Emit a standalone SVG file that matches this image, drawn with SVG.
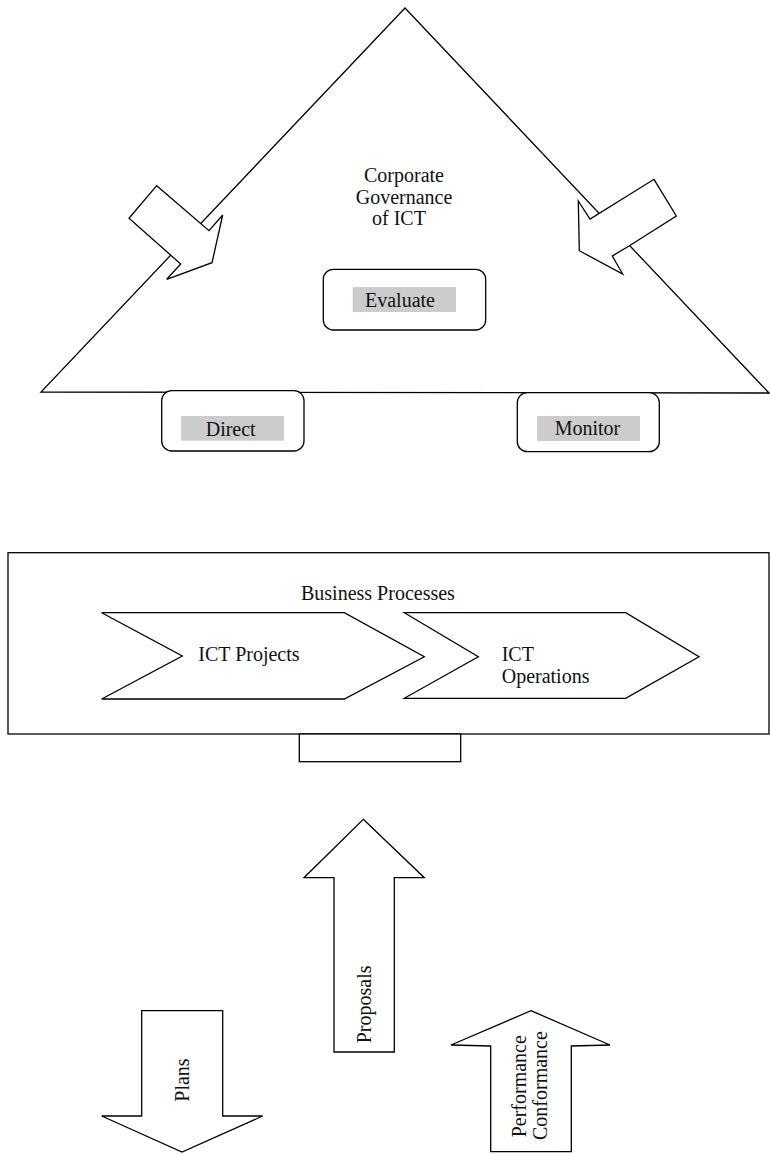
<svg xmlns="http://www.w3.org/2000/svg" width="770" height="1154" viewBox="0 0 770 1154">
  <style>
    .shape { fill: #ffffff; stroke: #000000; stroke-width: 1.3; stroke-linejoin: miter; }
    .label { font-family: "Liberation Serif", "Times New Roman", serif; font-size: 20px; fill: #111111; }
    .tag { fill: #cccccc; stroke: none; }
  </style>
  <rect width="770" height="1154" fill="#ffffff"/>

  <!-- Governance triangle -->
  <g id="governance">
    <polygon class="shape" points="405,8 769,393 41,392"/>
    <text class="label" x="404" y="182" text-anchor="middle">Corporate</text>
    <text class="label" x="404" y="203.5" text-anchor="middle">Governance</text>
    <text class="label" x="372" y="225">of ICT</text>
  </g>

  <g id="evaluate">
    <rect class="shape" x="323.3" y="269.3" width="162.4" height="60.7" rx="10" ry="10"/>
    <rect class="tag" x="352.7" y="287" width="103.3" height="25"/>
    <text class="label" x="365" y="307.3">Evaluate</text>
  </g>

  <g id="direct">
    <rect class="shape" x="161.7" y="390.7" width="142.3" height="60.3" rx="10" ry="10"/>
    <rect class="tag" x="181" y="416" width="103" height="24.7"/>
    <text class="label" x="205.7" y="435.5">Direct</text>
  </g>

  <g id="monitor">
    <rect class="shape" x="517.3" y="392.7" width="142" height="59" rx="10" ry="10"/>
    <rect class="tag" x="537" y="416" width="103" height="25"/>
    <text class="label" x="554.7" y="435.3">Monitor</text>
  </g>

  <!-- Business processes band -->
  <g id="business-processes">
    <rect class="shape" x="8" y="552.7" width="761" height="181.3"/>
    <text class="label" x="301" y="600">Business Processes</text>
  </g>

  <g id="ict-projects">
    <polygon class="shape" points="101.7,612.7 344.3,612.7 424.3,656.7 344.3,699 101.7,699 182.3,656"/>
    <text class="label" x="198.3" y="660.7">ICT Projects</text>
  </g>

  <g id="ict-operations">
    <polygon class="shape" points="404.3,612.7 625.7,612.7 699,656.7 625.7,698.3 404.3,698.3 478.3,656.7"/>
    <text class="label" x="501.7" y="661">ICT</text>
    <text class="label" x="501.7" y="682.7">Operations</text>
  </g>

  <g id="tab">
    <rect class="shape" x="299.3" y="734" width="161.4" height="27.7"/>
  </g>

  <!-- Block arrows -->
  <g id="connectors">
    <polygon class="shape" points="156.7,185.7 129,218.3 180.7,264 166.7,279.3 212,262.7 222.7,215 209,230.7"/>
    <polygon class="shape" points="654,179.3 676.3,216 629,246 612.3,256 622.7,274 579.3,250.7 578.3,201 590,219"/>
    <polygon class="shape" points="363.3,819.3 424.3,877.7 394.3,877.7 394.3,1052 334,1052 334,877.7 304,877.7"/>
    <polygon class="shape" points="141.7,1010.7 222.7,1010.7 222.7,1116 262.7,1116 182,1152 101.7,1116 141.7,1116"/>
    <polygon class="shape" points="531,1010.7 610,1045 571.3,1046 571.3,1151.7 490.7,1151.7 490.7,1046 451,1045"/>
    <text class="label" transform="translate(371,1043.3) rotate(-90)">Proposals</text>
    <text class="label" transform="translate(189.3,1101.7) rotate(-90)">Plans</text>
    <text class="label" transform="translate(526,1137.3) rotate(-90)">Performance</text>
    <text class="label" transform="translate(547.3,1140) rotate(-90)">Conformance</text>
  </g>
</svg>
